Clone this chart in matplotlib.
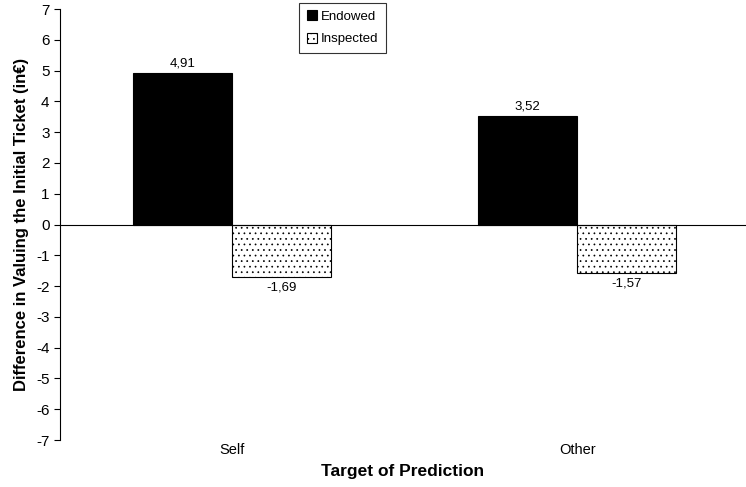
import matplotlib.pyplot as plt
import numpy as np

plt.rcParams['font.family'] = ['Liberation Sans', 'DejaVu Sans']
plt.rcParams['hatch.linewidth'] = 0.5
plt.rcParams['axes.unicode_minus'] = False

categories = ['Self', 'Other']
endowed = [4.91, 3.52]
inspected = [-1.69, -1.57]
series_names = ['Endowed', 'Inspected']


def fmt(v):
    return ('%.2f' % v).replace('.', ',')


def main():
    fig = plt.figure(figsize=(7.46, 4.87), dpi=100)
    ax = fig.add_axes([0.0804, 0.0965, 0.9196, 0.885])
    x = np.arange(len(categories))
    w = 0.287

    b1 = ax.bar(x - w / 2, endowed, w, color='black', edgecolor='black',
                linewidth=0.8, label=series_names[0])
    b2 = ax.bar(x + w / 2, inspected, w, color='white', edgecolor='black',
                linewidth=0.8, hatch='...', label=series_names[1])

    for r, v in zip(b1, endowed):
        ax.text(r.get_x() + r.get_width() / 2, v + 0.12, fmt(v),
                ha='center', va='bottom', fontsize=9.5)
    for r, v in zip(b2, inspected):
        ax.text(r.get_x() + r.get_width() / 2, v - 0.15, fmt(v),
                ha='center', va='top', fontsize=9.5)

    ax.axhline(0, color='black', linewidth=0.8)
    ax.set_xlim(-0.5, 1.49)
    ax.set_ylim(-7, 7)
    ax.set_yticks(range(-7, 8))
    ax.set_xticks(x)
    ax.set_xticklabels(categories, fontsize=10.5)
    ax.tick_params(axis='x', length=0, pad=2)
    ax.tick_params(axis='y', labelsize=11, length=4, width=0.8, direction='out')
    for s in ['top', 'right', 'bottom']:
        ax.spines[s].set_visible(False)
    ax.spines['left'].set_linewidth(0.8)

    ax.set_ylabel('Difference in Valuing the Initial Ticket (in€)',
                  fontsize=12, fontweight='bold', labelpad=5)
    ax.set_xlabel('Target of Prediction', fontsize=12.5, fontweight='bold',
                  labelpad=5)

    leg = ax.legend(loc='upper left', bbox_to_anchor=(0.349, 1.0139),
                    fontsize=9.5, frameon=True, fancybox=False,
                    edgecolor='black', handlelength=0.8, handleheight=0.8,
                    handletextpad=0.3, borderpad=0.55, labelspacing=0.75,
                    borderaxespad=0)
    leg.get_frame().set_linewidth(0.8)

    fig.savefig('out.png', dpi=100)


if __name__ == "__main__":
    main()
